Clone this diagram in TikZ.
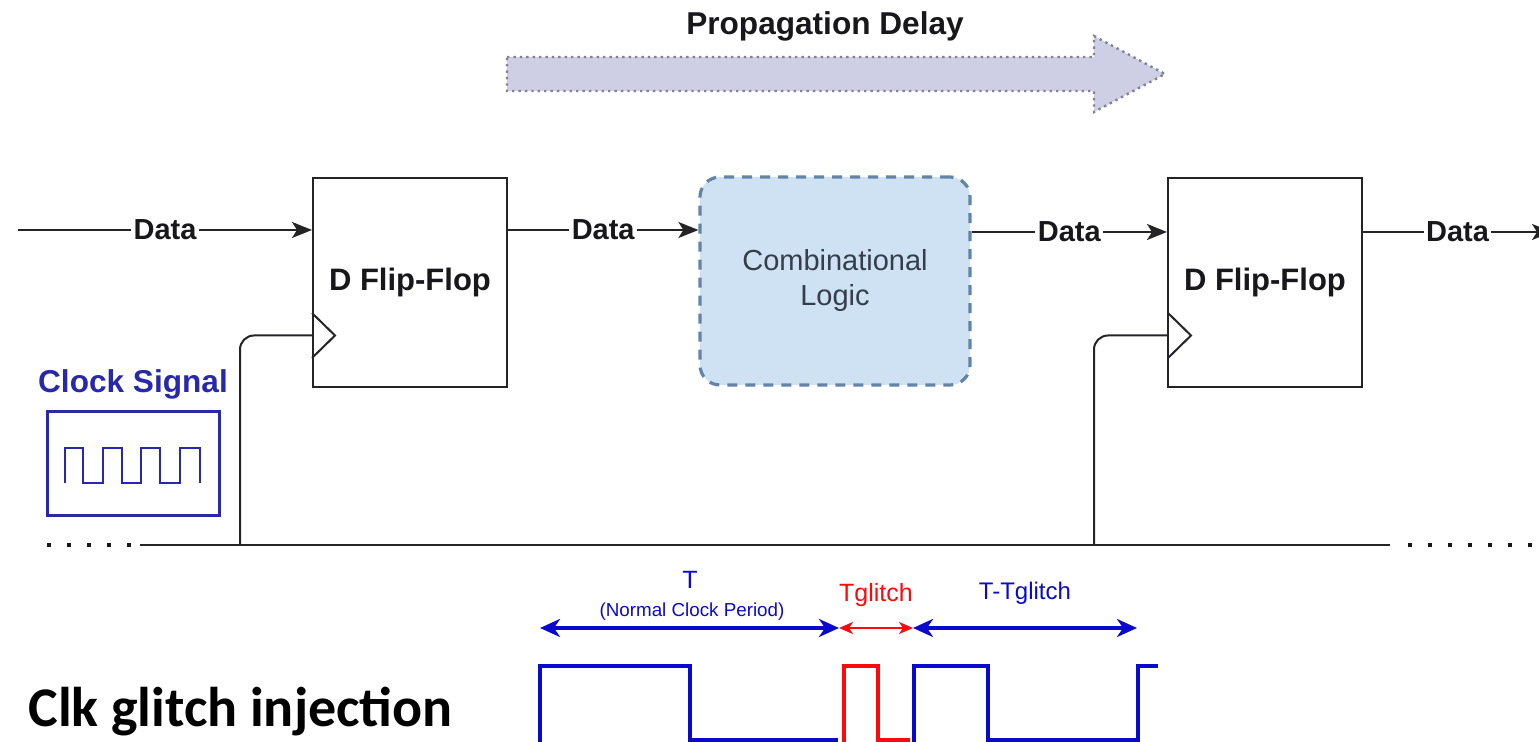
\documentclass[tikz,border=0pt]{standalone}
\usepackage{fontspec}
\setmainfont{Liberation Sans}
\newfontfamily\clkfont{Carlito}
\usetikzlibrary{arrows.meta,calc}
\definecolor{clkInk}{RGB}{24,24,26}
\definecolor{clkWire}{RGB}{36,36,38}
\definecolor{clkBlue}{RGB}{10,10,205}
\definecolor{clkNavy}{RGB}{40,40,170}
\definecolor{clkRed}{RGB}{250,10,10}
\definecolor{clkSky}{RGB}{207,226,244}
\definecolor{clkSteel}{RGB}{100,132,166}
\definecolor{clkSlate}{RGB}{52,62,78}
\definecolor{clkLav}{RGB}{206,206,228}
\definecolor{clkDots}{RGB}{130,130,150}
\tikzset{
  ctitle/.style={font=\rmfamily\bfseries\fontsize{15.8}{17}\selectfont,
    text=clkInk, inner sep=0pt},
  cdata/.style={font=\rmfamily\bfseries\fontsize{14.5}{16}\selectfont,
    text=clkInk, fill=white, inner xsep=1.2pt, inner ysep=1pt},
  cwire/.style={line width=1pt, draw=clkWire},
  cflow/.style={cwire, -{Stealth[length=10pt,width=8pt,inset=2.5pt]}},
  cspan/.style={{Stealth[length=10pt,width=9pt,inset=3pt]}-{Stealth[length=10pt,width=9pt,inset=3pt]},
    line width=1.6pt, draw=clkBlue},
  cwave/.style={line width=1.6pt, line join=miter}
}
\begin{document}
\begin{tikzpicture}[x=0.5pt, y=-0.5pt,
  ffbox/.style={draw=clkWire, line width=1pt, fill=white,
    minimum width=97pt, minimum height=104.5pt,
    font=\rmfamily\bfseries\fontsize{15.5}{17}\selectfont, text=clkInk},
  logic/.style={draw=clkSteel, fill=clkSky, line width=1.6pt,
    dash pattern=on 5pt off 4pt, rounded corners=10pt,
    minimum width=135pt, minimum height=104pt, align=center,
    font=\rmfamily\fontsize{14.5}{17.5}\selectfont, text=clkSlate},
  dots/.style={draw=clkInk, line width=2pt, dash pattern=on 2pt off 8pt},
  tlabel/.style={font=\rmfamily\fontsize{12.5}{14}\selectfont, text=clkBlue,
    inner sep=0pt}
]
\path[use as bounding box] (0,0) rectangle (1539,742);

% propagation arrow
\node[ctitle] (prop) at (825,26) {Propagation Delay};
\draw[fill=clkLav, draw=clkDots, line width=1.2pt, dotted]
  (507,57) -- (1094,57) -- (1094,36) -- (1165,74) -- (1094,112)
  -- (1094,91) -- (507,91) -- cycle;

% blocks
\node[ffbox] (ff1) at (410,282.5) {D Flip-Flop};
\node[logic] (comb) at (835,281) {Combinational\\Logic};
\node[ffbox] (ff2) at (1265,282.5) {D Flip-Flop};

\draw[cwire] (312,313) -- (335,335.5) -- (312,358);
\draw[cwire] (1168,313) -- (1191,335.5) -- (1168,358);

% data path
\coordinate (din) at (18,230);
\coordinate (dout) at (1552,232);
\draw[cflow] (din) -- node[cdata] {Data} (din -| ff1.west);
\draw[cflow] (ff1.east |- din) -- node[cdata] {Data} (comb.west |- din);
\draw[cflow] (comb.east |- dout) -- node[cdata] {Data} (ff2.west |- dout);
\draw[cflow] (ff2.east |- dout) -- node[cdata] {Data} (dout);

% clock bus
\coordinate (busL) at (140,545);
\coordinate (busR) at (1390,545);
\coordinate (tap1) at (240,545);
\coordinate (tap2) at (1094,545);
\coordinate (clk1) at (312,335.5);
\coordinate (clk2) at (1168,335.5);
\draw[cwire] (busL) -- (busR);
\draw[dots] (47,545) -- (busL);
\draw[dots] (1408,545) -- (1539,545);
\draw[cwire, rounded corners=7pt] (tap1) |- (clk1);
\draw[cwire, rounded corners=7pt] (tap2) |- (clk2);

% clock source
\node[ctitle, text=clkNavy] (clklbl) at (133,384) {Clock Signal};
\node[draw=clkNavy, line width=1.5pt, minimum width=86pt, minimum height=52pt]
  (clkbox) at (133.5,464) {};
\draw[clkNavy, line width=1pt]
  (65,483) -- (65,448) -- (83,448) -- (83,483) -- (103,483) -- (103,448)
  -- (122,448) -- (122,483) -- (141,483) -- (141,448) -- (160,448)
  -- (160,483) -- (180,483) -- (180,448) -- (200,448) -- (200,483);

% glitch timing
\node[font=\clkfont\bfseries\fontsize{28}{31}\selectfont, text=black,
  anchor=west, inner sep=0pt] (title) at (28,712) {Clk glitch injection};

\coordinate (t0) at (540,628);
\coordinate (t1) at (839,628);
\coordinate (t2) at (913,628);
\coordinate (t3) at (1137,628);
\draw[cspan] (t0) -- (t1);
\draw[cspan, draw=clkRed, line width=1.1pt,
  {Stealth[length=7pt,width=6pt,inset=2pt]}-{Stealth[length=7pt,width=6pt,inset=2pt]}]
  (t1) -- (t2);
\draw[cspan] (t2) -- (t3);
\node[tlabel] (tlbl) at (690,580) {T};
\node[tlabel, font=\rmfamily\fontsize{9.4}{11}\selectfont] (tnote) at (692,612)
  {(Normal Clock Period)};
\node[tlabel, text=clkRed] (glbl) at (876,595) {Tglitch};
\node[tlabel, font=\rmfamily\fontsize{12}{14}\selectfont] (rlbl) at (1025,593)
  {T-Tglitch};

\draw[cwave, clkBlue] (540,745) -- (540,666) -- (690,666) -- (690,740)
  -- (838,740);
\draw[cwave, clkRed] (844,745) -- (844,666) -- (878,666) -- (878,740)
  -- (910,740);
\draw[cwave, clkBlue] (914,745) -- (914,666) -- (988,666) -- (988,740)
  -- (1138,740) -- (1138,666) -- (1158,666);
\end{tikzpicture}
\end{document}
